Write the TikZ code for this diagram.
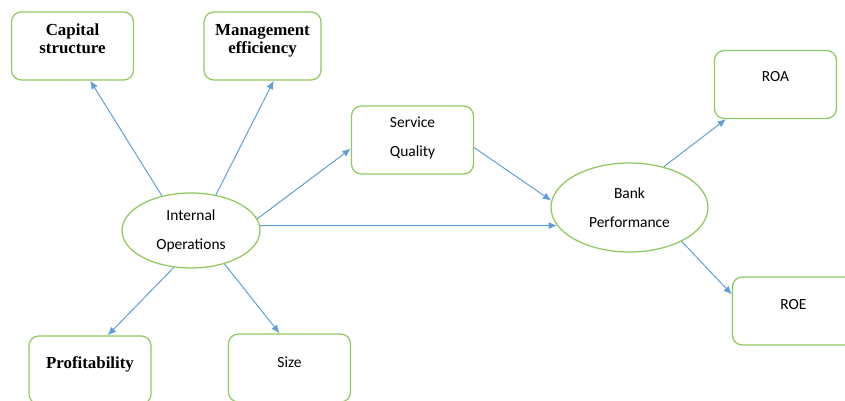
\documentclass[tikz,border=0pt]{standalone}
\usepackage{fontspec}
\setmainfont{Liberation Serif}
\newfontfamily\calibri{Carlito}
\usetikzlibrary{shapes.geometric, arrows.meta}
\definecolor{boxgreen}{RGB}{146,200,98}
\definecolor{linkblue}{RGB}{96,158,216}
\begin{document}
\begin{tikzpicture}[
    box/.style={draw=boxgreen, line width=0.9pt, rounded corners=7pt,
        minimum width=3.05cm, minimum height=1.7cm, align=center},
    oval/.style={draw=boxgreen, line width=0.9pt, ellipse, align=center},
    serif/.style={font=\fontsize{12}{13}\selectfont\bfseries},
    sans/.style={font=\calibri\fontsize{11}{20.5}\selectfont},
    textup/.style={text height=0pt, text depth=#1},
    twolines/.style={text height=#1, text depth=0pt},
    link/.style={draw=linkblue, line width=0.7pt, ->, >={Latex[length=6pt,width=5pt]}},
]
    \clip (0,0) rectangle (21.125,10.025);
    % measures
    \node[box, serif, twolines=10.8pt] (cap) at (1.8125,8.875) {Capital\\structure};
    \node[box, serif, twolines=10.8pt, minimum width=2.925cm] (mgmt) at (6.5625,8.875) {Management\\efficiency};
    \node[box, serif, textup=2pt] (prof) at (2.25,0.775) {Profitability};
    \node[box, sans, textup=0pt] (size) at (7.2375,0.825) {Size};
    % the two ovals
    \node[oval, sans, minimum width=3.45cm, minimum height=1.875cm] (io) at (4.775,4.2625) {Internal\\Operations};
    \node[oval, sans, minimum width=3.925cm, minimum height=2.225cm] (bp) at (15.7375,4.8375) {Bank\\Performance};
    \node[box, sans, twolines=23pt] (sq) at (10.3125,6.525) {Service\\Quality};
    \node[box, sans, textup=3.6pt] (roa) at (19.3875,7.9125) {ROA};
    \node[box, sans, textup=2.2pt] (roe) at (19.8375,2.25) {ROE};
    % arrows
    \foreach \a/\b in {130/cap.-63, 55/mgmt.-72, 10/sq.188, 4/bp.194, -115/prof.63, -45/size.106} {
        \draw[link] (io.\a) -- (\b);
    }
    \draw[link] (sq.-7) -- (bp.175);
    \draw[link] (bp.50) -- (roa.215);
    \draw[link] (bp.-33) -- (roe.165);
\end{tikzpicture}
\end{document}
